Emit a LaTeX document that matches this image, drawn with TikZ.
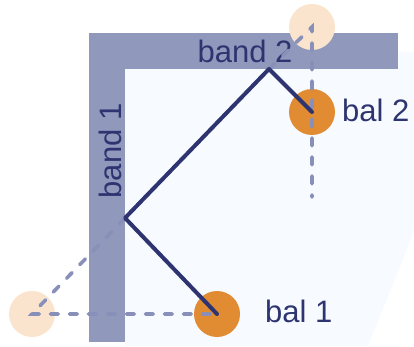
\documentclass[tikz,border=0pt]{standalone}
\usepackage{fontspec}
\setmainfont{Liberation Sans}
\usepackage{tikz}
\definecolor{bandblue}{RGB}{144, 152, 188}
\definecolor{tablefill}{RGB}{247, 251, 255}
\definecolor{cuenavy}{RGB}{46, 52, 112}
\definecolor{ghostline}{RGB}{136, 144, 186}
\definecolor{balorange}{RGB}{225, 140, 50}
\definecolor{ghostpeach}{RGB}{250, 228, 205}

\begin{document}
\begin{tikzpicture}[x=1pt, y=-1pt,
    bal/.style={circle, fill=balorange, minimum size=46pt, inner sep=0pt},
    ghost/.style={circle, fill=ghostpeach, minimum size=46pt, inner sep=0pt},
    route/.style={cuenavy, line width=4pt, line join=round, line cap=round},
    mirror/.style={ghostline, line width=3.6pt, line cap=round, dash pattern=on 8pt off 11pt},
    lbl/.style={cuenavy, font=\fontsize{31}{31}\selectfont, inner sep=0pt}]
\useasboundingbox (0,0) rectangle (414,347);

% Table cloth
\fill[tablefill] (125,69) -- (398,69) -- (398,52) -- (414,52) -- (414,230)
    .. controls (400,270) and (380,315) .. (368,346) -- (125,346) -- cycle;

% Bands
\fill[bandblue] (89,33) rectangle (125,342);
\fill[bandblue] (89,33) rectangle (398,69);
\node[lbl, rotate=90, anchor=base] (band1) at (121,151) {band 1};
\node[lbl, anchor=base] (band2) at (245,63) {band 2};

% Balls and mirror images
\node[ghost] (ghost1) at (32,314) {};
\node[ghost] (ghost2) at (312,27) {};
\node[bal] (ball1) at (217,314) {};
\node[bal] (ball2) at (312,112) {};
\node[lbl, anchor=base west] (lbl1) at (265,322) {bal 1};
\node[lbl, anchor=base west] (lbl2) at (342,122) {bal 2};

% Bounce points
\coordinate (hit1) at (125,218);
\coordinate (hit2) at (269,69);
\coordinate (drop) at (312,197);

% Mirror lines
\draw[mirror] (hit1) -- (ghost1.center) -- (ball1.center);
\draw[mirror] (hit2) -- (ghost2.center) -- (drop);

% Path of the ball
\draw[route] (ball1.center) -- (hit1) -- (hit2) -- (ball2.center);
\end{tikzpicture}
\end{document}
